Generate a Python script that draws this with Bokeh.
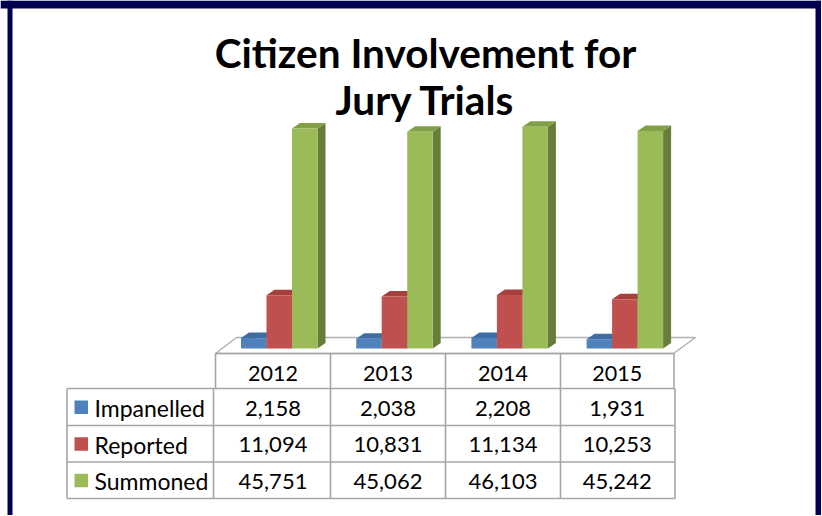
from bokeh.plotting import figure
from bokeh.models import Range1d
from bokeh.core.properties import value
from bokeh.embed import file_html
from bokeh.resources import INLINE

# ---- data ----
years = ["2012", "2013", "2014", "2015"]
series = ["Impanelled", "Reported", "Summoned"]
impanelled = [2158, 2038, 2208, 1931]
reported = [11094, 10831, 11134, 10253]
summoned = [45751, 45062, 46103, 45242]

front_colors = ["#4F81BD", "#C0504D", "#9BBB59"]
top_colors = ["#3F6DA3", "#A6403D", "#819F45"]
side_colors = ["#34598A", "#8C3330", "#677E38"]

# ---- layout (page-pixel based) ----
W, H = 821, 515
PAGE_X0, PAGE_Y0 = 0, 0
BASE_PY = 348                 # page y of value 0
PX_PER_UNIT = 220.0 / 45751   # vertical scale of bars

def vy(py):
    """page y pixel -> data value"""
    return (BASE_PY - py) / PX_PER_UNIT

p = figure(width=W, height=H, output_backend="svg", toolbar_location=None,
           x_range=Range1d(PAGE_X0, PAGE_X0 + W),
           y_range=Range1d(vy(PAGE_Y0 + H), vy(PAGE_Y0)),
           min_border=0)
p.axis.visible = False
p.grid.visible = False
p.outline_line_color = None
p.background_fill_color = "white"
p.border_fill_color = "white"

# frame border (navy)
NAVY = "#000050"
p.quad(left=[7, 815, 0], right=[12, 820.5, 822], bottom=[vy(H), vy(H), vy(8)],
       top=[vy(0), vy(0), vy(0)], fill_color=NAVY, line_color=None)

# title
TFONT = value("Lato")
p.text(x=[425, 425], y=[vy(52), vy(99)],
       text=["Citizen Involvement for", "Jury Trials"],
       text_font=TFONT, text_font_style="bold", text_font_size="40.5px",
       text_align="center", text_baseline="alphabetic", text_color="black")

# floor
GRID = "#A6A6A6"
p.patch(x=[215, 236, 695, 673], y=[vy(353), vy(337), vy(337), vy(353)],
        fill_color="white", line_color="#B0B0B0", line_width=1.5)

# 3D bars
GROUP_X0, GROUP_STEP, BAR_W = 240.5, 115.2, 25.5
DX, DY = 8.0, 5.5
dyv = DY / PX_PER_UNIT
all_vals = [impanelled, reported, summoned]
for gi in range(len(years)):
    for si in range(len(series)):
        v = all_vals[si][gi]
        xl = GROUP_X0 + gi * GROUP_STEP + si * BAR_W
        xr = xl + BAR_W
        # side face
        p.patch(x=[xr, xr + DX, xr + DX, xr], y=[0, dyv, v + dyv, v],
                fill_color=side_colors[si], line_color=None)
        # top face
        p.patch(x=[xl, xl + DX, xr + DX, xr], y=[v, v + dyv, v + dyv, v],
                fill_color=top_colors[si], line_color=None)
        # front face
        p.quad(left=[xl], right=[xr], bottom=[0], top=[v],
               fill_color=front_colors[si], line_color=None)

# data table
col_x = [215, 330, 445, 560, 673.5]
lab_l, lab_r = 66.5, 213
row_y = [388, 425, 461.5, 498]
head_top = 353

# header row lines
p.segment(x0=[215], y0=[vy(head_top)], x1=[673.5], y1=[vy(head_top)],
          line_color=GRID, line_width=1.6)
p.segment(x0=col_x, y0=[vy(head_top)] * 5, x1=col_x, y1=[vy(row_y[0])] * 5,
          line_color=GRID, line_width=1.6)
# body lines
p.segment(x0=[lab_l] * 4, y0=[vy(y) for y in row_y], x1=[674.5] * 4,
          y1=[vy(y) for y in row_y], line_color=GRID, line_width=1.6)
vx = [lab_l, lab_r] + col_x[1:4] + [674.5]
p.segment(x0=vx, y0=[vy(row_y[0])] * len(vx), x1=vx, y1=[vy(row_y[-1])] * len(vx),
          line_color=GRID, line_width=1.6)

CFONT = value("Lato")
centers = [(col_x[i] + col_x[i + 1]) / 2 for i in range(4)]
p.text(x=centers, y=[vy((head_top + row_y[0]) / 2 + 2)] * 4, text=years,
       text_font=CFONT, text_font_size="21.5px", text_align="center",
       text_baseline="middle", text_color="black")

for ri in range(3):
    yc = (row_y[ri] + row_y[ri + 1]) / 2
    p.text(x=centers, y=[vy(yc + 1)] * 4,
           text=[f"{x:,}" for x in all_vals[ri]],
           text_font=CFONT, text_font_size="22px", text_align="center",
           text_baseline="middle", text_color="black")
    # legend key
    p.quad(left=[74], right=[87.5], bottom=[vy(yc + 7)], top=[vy(yc - 6.5)],
           fill_color=front_colors[ri], line_color=None)
    p.text(x=[94], y=[vy(yc + 1)], text=[series[ri]],
           text_font=CFONT, text_font_size="23px", text_align="left",
           text_baseline="middle", text_color="black")

open("out.html", "w").write(file_html(p, INLINE))
